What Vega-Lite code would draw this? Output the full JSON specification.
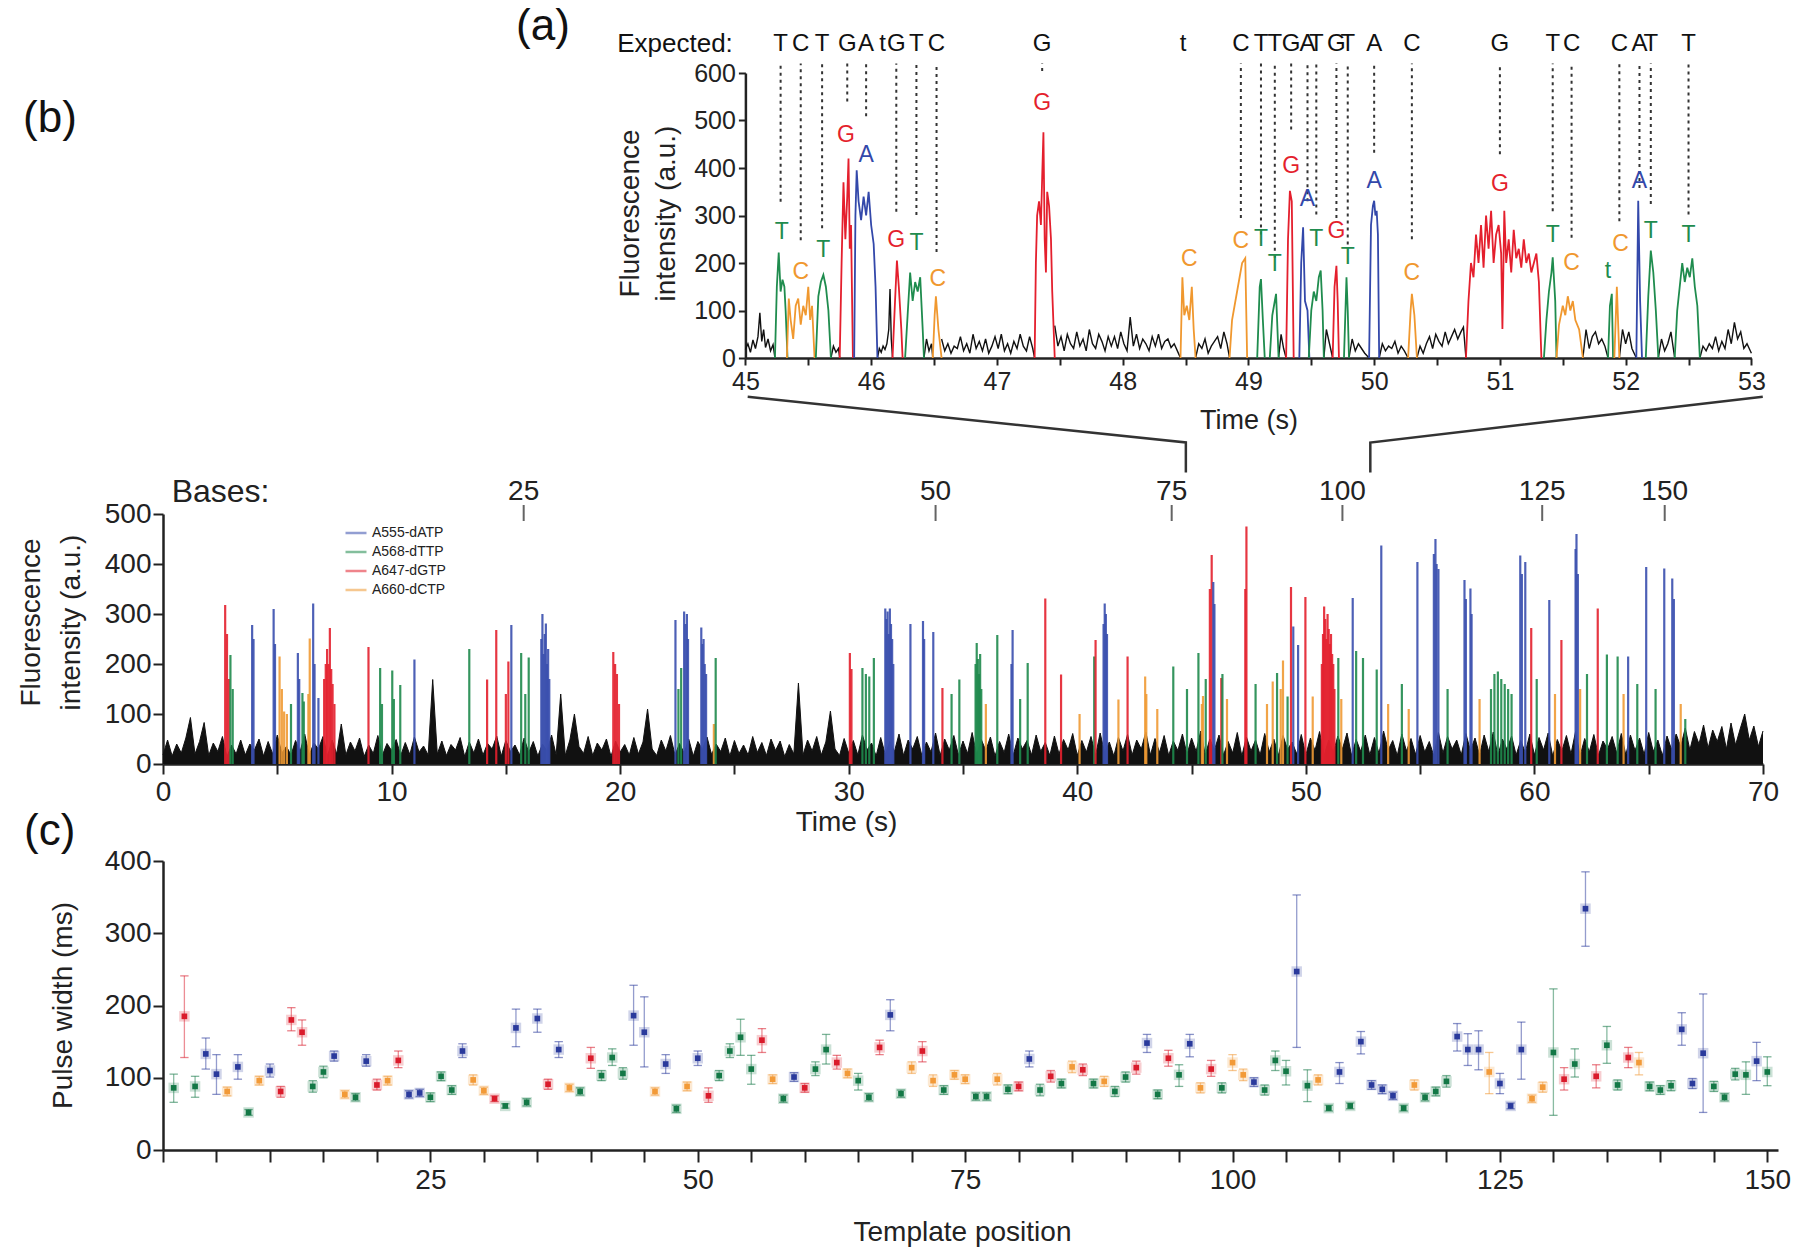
{
"$schema":"https://vega.github.io/schema/vega-lite/v6.json",
"background":"white",
"padding":{"left":17,"top":4,"right":10,"bottom":5},
"config":{"view":{"stroke":null},"font":"Liberation Sans",
"axis":{"grid":false,"domainColor":"#222","domainWidth":2.5,"tickColor":"#222","tickWidth":2,"labelColor":"#222","titleColor":"#222","titleFontWeight":"normal","labelFont":"Liberation Sans","titleFont":"Liberation Sans","labelOverlap":false,"labelFlush":false,"labelBound":false},
"text":{"font":"Liberation Sans"}},
"datasets":{
"noiseA":[
{"t":45.0,"v":18,"s":1},{"t":45.02,"v":30,"s":1},{"t":45.04,"v":12,"s":1},{"t":45.06,"v":38,"s":1},{"t":45.08,"v":20,"s":1},{"t":45.1,"v":45,"s":1},{"t":45.115,"v":95,"s":1},{"t":45.13,"v":35,"s":1},{"t":45.145,"v":60,"s":1},{"t":45.16,"v":22,"s":1},{"t":45.18,"v":40,"s":1},{"t":45.2,"v":15,"s":1},{"t":45.22,"v":28,"s":1},{"t":45.235,"v":0,"s":1},
{"t":45.68,"v":0,"s":2},{"t":45.7,"v":25,"s":2},{"t":45.72,"v":12,"s":2},{"t":45.74,"v":20,"s":2},{"t":45.75,"v":0,"s":2},
{"t":46.05,"v":0,"s":3},{"t":46.065,"v":20,"s":3},{"t":46.08,"v":12,"s":3},{"t":46.095,"v":25,"s":3},{"t":46.11,"v":18,"s":3},{"t":46.125,"v":30,"s":3},{"t":46.14,"v":60,"s":3},{"t":46.15,"v":145,"s":3},{"t":46.16,"v":40,"s":3},{"t":46.17,"v":0,"s":3},
{"t":46.42,"v":0,"s":4},{"t":46.44,"v":40,"s":4},{"t":46.46,"v":15,"s":4},{"t":46.48,"v":30,"s":4},{"t":46.49,"v":0,"s":4},
{"t":46.56,"v":40,"s":5},{"t":46.585,"v":15,"s":5},{"t":46.61,"v":30,"s":5},{"t":46.635,"v":10,"s":5},{"t":46.66,"v":25,"s":5},{"t":46.685,"v":20,"s":5},{"t":46.71,"v":45,"s":5},{"t":46.735,"v":15,"s":5},{"t":46.76,"v":30,"s":5},{"t":46.785,"v":10,"s":5},{"t":46.81,"v":50,"s":5},{"t":46.835,"v":20,"s":5},{"t":46.86,"v":35,"s":5},{"t":46.885,"v":15,"s":5},{"t":46.91,"v":40,"s":5},{"t":46.935,"v":10,"s":5},{"t":46.96,"v":25,"s":5},{"t":46.985,"v":45,"s":5},{"t":47.01,"v":20,"s":5},{"t":47.035,"v":50,"s":5},{"t":47.06,"v":15,"s":5},{"t":47.085,"v":30,"s":5},{"t":47.11,"v":10,"s":5},{"t":47.135,"v":35,"s":5},{"t":47.16,"v":20,"s":5},{"t":47.185,"v":50,"s":5},{"t":47.21,"v":25,"s":5},{"t":47.235,"v":15,"s":5},{"t":47.26,"v":45,"s":5},{"t":47.285,"v":20,"s":5},{"t":47.3,"v":0,"s":5},
{"t":47.46,"v":68,"s":6},{"t":47.485,"v":25,"s":6},{"t":47.51,"v":45,"s":6},{"t":47.535,"v":15,"s":6},{"t":47.56,"v":50,"s":6},{"t":47.585,"v":30,"s":6},{"t":47.61,"v":20,"s":6},{"t":47.635,"v":55,"s":6},{"t":47.66,"v":25,"s":6},{"t":47.685,"v":40,"s":6},{"t":47.71,"v":15,"s":6},{"t":47.735,"v":60,"s":6},{"t":47.76,"v":30,"s":6},{"t":47.785,"v":20,"s":6},{"t":47.81,"v":50,"s":6},{"t":47.835,"v":35,"s":6},{"t":47.86,"v":15,"s":6},{"t":47.885,"v":45,"s":6},{"t":47.91,"v":25,"s":6},{"t":47.935,"v":45,"s":6},{"t":47.96,"v":20,"s":6},{"t":47.985,"v":55,"s":6},{"t":48.01,"v":30,"s":6},{"t":48.035,"v":15,"s":6},{"t":48.06,"v":86,"s":6},{"t":48.085,"v":25,"s":6},{"t":48.11,"v":50,"s":6},{"t":48.135,"v":20,"s":6},{"t":48.16,"v":40,"s":6},{"t":48.185,"v":30,"s":6},{"t":48.21,"v":15,"s":6},{"t":48.235,"v":45,"s":6},{"t":48.26,"v":25,"s":6},{"t":48.285,"v":50,"s":6},{"t":48.31,"v":20,"s":6},{"t":48.335,"v":35,"s":6},{"t":48.36,"v":40,"s":6},{"t":48.385,"v":22,"s":6},{"t":48.41,"v":30,"s":6},{"t":48.435,"v":15,"s":6},{"t":48.46,"v":0,"s":6},
{"t":48.58,"v":0,"s":7},{"t":48.605,"v":30,"s":7},{"t":48.63,"v":20,"s":7},{"t":48.655,"v":40,"s":7},{"t":48.68,"v":10,"s":7},{"t":48.705,"v":25,"s":7},{"t":48.73,"v":35,"s":7},{"t":48.755,"v":45,"s":7},{"t":48.78,"v":20,"s":7},{"t":48.805,"v":55,"s":7},{"t":48.83,"v":30,"s":7},{"t":48.85,"v":0,"s":7},
{"t":49.24,"v":0,"s":8},{"t":49.26,"v":50,"s":8},{"t":49.28,"v":20,"s":8},{"t":49.3,"v":0,"s":8},
{"t":49.6,"v":0,"s":9},{"t":49.62,"v":60,"s":9},{"t":49.645,"v":30,"s":9},{"t":49.67,"v":0,"s":9},
{"t":49.8,"v":0,"s":10},{"t":49.825,"v":40,"s":10},{"t":49.85,"v":15,"s":10},{"t":49.875,"v":30,"s":10},{"t":49.9,"v":20,"s":10},{"t":49.925,"v":10,"s":10},{"t":49.96,"v":0,"s":10},
{"t":50.04,"v":0,"s":11},{"t":50.065,"v":30,"s":11},{"t":50.09,"v":15,"s":11},{"t":50.115,"v":25,"s":11},{"t":50.14,"v":20,"s":11},{"t":50.165,"v":35,"s":11},{"t":50.19,"v":10,"s":11},{"t":50.215,"v":25,"s":11},{"t":50.24,"v":15,"s":11},{"t":50.27,"v":0,"s":11},
{"t":50.34,"v":0,"s":12},{"t":50.365,"v":25,"s":12},{"t":50.39,"v":10,"s":12},{"t":50.415,"v":30,"s":12},{"t":50.44,"v":45,"s":12},{"t":50.465,"v":20,"s":12},{"t":50.49,"v":50,"s":12},{"t":50.515,"v":35,"s":12},{"t":50.54,"v":25,"s":12},{"t":50.565,"v":55,"s":12},{"t":50.59,"v":30,"s":12},{"t":50.615,"v":45,"s":12},{"t":50.64,"v":60,"s":12},{"t":50.665,"v":40,"s":12},{"t":50.69,"v":55,"s":12},{"t":50.71,"v":65,"s":12},{"t":50.73,"v":0,"s":12},
{"t":51.66,"v":0,"s":13},{"t":51.685,"v":60,"s":13},{"t":51.71,"v":20,"s":13},{"t":51.735,"v":45,"s":13},{"t":51.76,"v":55,"s":13},{"t":51.785,"v":30,"s":13},{"t":51.81,"v":40,"s":13},{"t":51.835,"v":25,"s":13},{"t":51.86,"v":0,"s":13},
{"t":51.95,"v":0,"s":14},{"t":51.975,"v":60,"s":14},{"t":52.0,"v":30,"s":14},{"t":52.025,"v":55,"s":14},{"t":52.05,"v":20,"s":14},{"t":52.085,"v":0,"s":14},
{"t":52.26,"v":0,"s":15},{"t":52.285,"v":40,"s":15},{"t":52.31,"v":15,"s":15},{"t":52.335,"v":30,"s":15},{"t":52.36,"v":55,"s":15},{"t":52.39,"v":0,"s":15},
{"t":52.59,"v":0,"s":16},{"t":52.615,"v":25,"s":16},{"t":52.64,"v":15,"s":16},{"t":52.665,"v":30,"s":16},{"t":52.69,"v":20,"s":16},{"t":52.715,"v":45,"s":16},{"t":52.74,"v":15,"s":16},{"t":52.765,"v":35,"s":16},{"t":52.79,"v":20,"s":16},{"t":52.815,"v":60,"s":16},{"t":52.84,"v":30,"s":16},{"t":52.865,"v":75,"s":16},{"t":52.89,"v":40,"s":16},{"t":52.915,"v":55,"s":16},{"t":52.94,"v":20,"s":16},{"t":52.965,"v":30,"s":16},{"t":53.0,"v":10,"s":16}
],
"pulsesA":[
{"t":45.235,"v":0,"b":"T","p":1},{"t":45.25,"v":150,"b":"T","p":1},{"t":45.265,"v":222,"b":"T","p":1},{"t":45.28,"v":140,"b":"T","p":1},{"t":45.295,"v":165,"b":"T","p":1},{"t":45.31,"v":150,"b":"T","p":1},{"t":45.32,"v":100,"b":"T","p":1},{"t":45.335,"v":0,"b":"T","p":1},
{"t":45.33,"v":0,"b":"C","p":2},{"t":45.345,"v":125,"b":"C","p":2},{"t":45.36,"v":80,"b":"C","p":2},{"t":45.38,"v":40,"b":"C","p":2},{"t":45.4,"v":110,"b":"C","p":2},{"t":45.42,"v":125,"b":"C","p":2},{"t":45.44,"v":70,"b":"C","p":2},{"t":45.46,"v":110,"b":"C","p":2},{"t":45.48,"v":90,"b":"C","p":2},{"t":45.5,"v":150,"b":"C","p":2},{"t":45.515,"v":80,"b":"C","p":2},{"t":45.53,"v":110,"b":"C","p":2},{"t":45.55,"v":0,"b":"C","p":2},
{"t":45.56,"v":0,"b":"T","p":3},{"t":45.58,"v":130,"b":"T","p":3},{"t":45.6,"v":160,"b":"T","p":3},{"t":45.62,"v":175,"b":"T","p":3},{"t":45.64,"v":150,"b":"T","p":3},{"t":45.66,"v":100,"b":"T","p":3},{"t":45.68,"v":0,"b":"T","p":3},
{"t":45.75,"v":0,"b":"G","p":4},{"t":45.765,"v":200,"b":"G","p":4},{"t":45.78,"v":370,"b":"G","p":4},{"t":45.795,"v":250,"b":"G","p":4},{"t":45.81,"v":340,"b":"G","p":4},{"t":45.82,"v":420,"b":"G","p":4},{"t":45.83,"v":230,"b":"G","p":4},{"t":45.84,"v":280,"b":"G","p":4},{"t":45.855,"v":0,"b":"G","p":4},
{"t":45.865,"v":0,"b":"A","p":5},{"t":45.875,"v":300,"b":"A","p":5},{"t":45.885,"v":395,"b":"A","p":5},{"t":45.9,"v":330,"b":"A","p":5},{"t":45.92,"v":290,"b":"A","p":5},{"t":45.94,"v":340,"b":"A","p":5},{"t":45.96,"v":300,"b":"A","p":5},{"t":45.98,"v":350,"b":"A","p":5},{"t":46.0,"v":280,"b":"A","p":5},{"t":46.02,"v":240,"b":"A","p":5},{"t":46.035,"v":150,"b":"A","p":5},{"t":46.05,"v":0,"b":"A","p":5},
{"t":46.17,"v":0,"b":"G","p":6},{"t":46.19,"v":120,"b":"G","p":6},{"t":46.205,"v":205,"b":"G","p":6},{"t":46.22,"v":150,"b":"G","p":6},{"t":46.24,"v":60,"b":"G","p":6},{"t":46.25,"v":0,"b":"G","p":6},
{"t":46.27,"v":0,"b":"T","p":7},{"t":46.29,"v":90,"b":"T","p":7},{"t":46.31,"v":180,"b":"T","p":7},{"t":46.33,"v":120,"b":"T","p":7},{"t":46.35,"v":160,"b":"T","p":7},{"t":46.37,"v":140,"b":"T","p":7},{"t":46.39,"v":170,"b":"T","p":7},{"t":46.41,"v":60,"b":"T","p":7},{"t":46.42,"v":0,"b":"T","p":7},
{"t":46.49,"v":0,"b":"C","p":8},{"t":46.505,"v":90,"b":"C","p":8},{"t":46.515,"v":130,"b":"C","p":8},{"t":46.535,"v":60,"b":"C","p":8},{"t":46.56,"v":0,"b":"C","p":8},
{"t":47.3,"v":0,"b":"G","p":9},{"t":47.31,"v":200,"b":"G","p":9},{"t":47.32,"v":300,"b":"G","p":9},{"t":47.335,"v":330,"b":"G","p":9},{"t":47.35,"v":280,"b":"G","p":9},{"t":47.36,"v":380,"b":"G","p":9},{"t":47.37,"v":475,"b":"G","p":9},{"t":47.38,"v":250,"b":"G","p":9},{"t":47.39,"v":180,"b":"G","p":9},{"t":47.4,"v":350,"b":"G","p":9},{"t":47.415,"v":320,"b":"G","p":9},{"t":47.43,"v":250,"b":"G","p":9},{"t":47.44,"v":140,"b":"G","p":9},{"t":47.46,"v":0,"b":"G","p":9},
{"t":48.46,"v":0,"b":"C","p":10},{"t":48.475,"v":170,"b":"C","p":10},{"t":48.49,"v":90,"b":"C","p":10},{"t":48.51,"v":110,"b":"C","p":10},{"t":48.53,"v":80,"b":"C","p":10},{"t":48.55,"v":150,"b":"C","p":10},{"t":48.565,"v":60,"b":"C","p":10},{"t":48.58,"v":0,"b":"C","p":10},
{"t":48.85,"v":0,"b":"C","p":11},{"t":48.87,"v":80,"b":"C","p":11},{"t":48.89,"v":110,"b":"C","p":11},{"t":48.91,"v":140,"b":"C","p":11},{"t":48.93,"v":170,"b":"C","p":11},{"t":48.95,"v":200,"b":"C","p":11},{"t":48.975,"v":210,"b":"C","p":11},{"t":48.99,"v":0,"b":"C","p":11},
{"t":49.07,"v":0,"b":"T","p":12},{"t":49.09,"v":150,"b":"T","p":12},{"t":49.1,"v":166,"b":"T","p":12},{"t":49.115,"v":80,"b":"T","p":12},{"t":49.13,"v":0,"b":"T","p":12},
{"t":49.17,"v":0,"b":"T","p":13},{"t":49.19,"v":90,"b":"T","p":13},{"t":49.21,"v":120,"b":"T","p":13},{"t":49.22,"v":135,"b":"T","p":13},{"t":49.24,"v":0,"b":"T","p":13},
{"t":49.3,"v":0,"b":"G","p":14},{"t":49.315,"v":250,"b":"G","p":14},{"t":49.33,"v":352,"b":"G","p":14},{"t":49.345,"v":330,"b":"G","p":14},{"t":49.36,"v":0,"b":"G","p":14},
{"t":49.405,"v":0,"b":"A","p":15},{"t":49.42,"v":200,"b":"A","p":15},{"t":49.435,"v":275,"b":"A","p":15},{"t":49.45,"v":120,"b":"A","p":15},{"t":49.47,"v":100,"b":"A","p":15},{"t":49.485,"v":0,"b":"A","p":15},
{"t":49.48,"v":0,"b":"T","p":16},{"t":49.5,"v":100,"b":"T","p":16},{"t":49.52,"v":140,"b":"T","p":16},{"t":49.54,"v":120,"b":"T","p":16},{"t":49.56,"v":170,"b":"T","p":16},{"t":49.575,"v":184,"b":"T","p":16},{"t":49.59,"v":100,"b":"T","p":16},{"t":49.6,"v":0,"b":"T","p":16},
{"t":49.67,"v":0,"b":"G","p":17},{"t":49.685,"v":150,"b":"G","p":17},{"t":49.7,"v":194,"b":"G","p":17},{"t":49.71,"v":120,"b":"G","p":17},{"t":49.72,"v":0,"b":"G","p":17},
{"t":49.76,"v":0,"b":"T","p":18},{"t":49.78,"v":170,"b":"T","p":18},{"t":49.79,"v":100,"b":"T","p":18},{"t":49.8,"v":0,"b":"T","p":18},
{"t":49.96,"v":0,"b":"A","p":19},{"t":49.975,"v":280,"b":"A","p":19},{"t":49.99,"v":320,"b":"A","p":19},{"t":50.0,"v":331,"b":"A","p":19},{"t":50.01,"v":300,"b":"A","p":19},{"t":50.02,"v":310,"b":"A","p":19},{"t":50.03,"v":260,"b":"A","p":19},{"t":50.04,"v":0,"b":"A","p":19},
{"t":50.27,"v":0,"b":"C","p":20},{"t":50.29,"v":100,"b":"C","p":20},{"t":50.3,"v":135,"b":"C","p":20},{"t":50.32,"v":90,"b":"C","p":20},{"t":50.34,"v":0,"b":"C","p":20},
{"t":50.73,"v":0,"b":"G","p":21},{"t":50.75,"v":120,"b":"G","p":21},{"t":50.77,"v":200,"b":"G","p":21},{"t":50.79,"v":170,"b":"G","p":21},{"t":50.81,"v":260,"b":"G","p":21},{"t":50.83,"v":200,"b":"G","p":21},{"t":50.85,"v":280,"b":"G","p":21},{"t":50.87,"v":190,"b":"G","p":21},{"t":50.89,"v":300,"b":"G","p":21},{"t":50.91,"v":230,"b":"G","p":21},{"t":50.93,"v":310,"b":"G","p":21},{"t":50.95,"v":200,"b":"G","p":21},{"t":50.97,"v":260,"b":"G","p":21},{"t":50.99,"v":280,"b":"G","p":21},{"t":51.01,"v":220,"b":"G","p":21},{"t":51.02,"v":61,"b":"G","p":21},{"t":51.035,"v":310,"b":"G","p":21},{"t":51.05,"v":200,"b":"G","p":21},{"t":51.07,"v":250,"b":"G","p":21},{"t":51.09,"v":180,"b":"G","p":21},{"t":51.11,"v":270,"b":"G","p":21},{"t":51.13,"v":210,"b":"G","p":21},{"t":51.15,"v":230,"b":"G","p":21},{"t":51.17,"v":190,"b":"G","p":21},{"t":51.19,"v":250,"b":"G","p":21},{"t":51.21,"v":200,"b":"G","p":21},{"t":51.23,"v":220,"b":"G","p":21},{"t":51.25,"v":180,"b":"G","p":21},{"t":51.27,"v":200,"b":"G","p":21},{"t":51.29,"v":220,"b":"G","p":21},{"t":51.31,"v":160,"b":"G","p":21},{"t":51.33,"v":0,"b":"G","p":21},
{"t":51.35,"v":0,"b":"T","p":22},{"t":51.37,"v":80,"b":"T","p":22},{"t":51.39,"v":140,"b":"T","p":22},{"t":51.41,"v":180,"b":"T","p":22},{"t":51.42,"v":212,"b":"T","p":22},{"t":51.44,"v":120,"b":"T","p":22},{"t":51.45,"v":0,"b":"T","p":22},
{"t":51.45,"v":0,"b":"C","p":23},{"t":51.47,"v":70,"b":"C","p":23},{"t":51.5,"v":110,"b":"C","p":23},{"t":51.52,"v":90,"b":"C","p":23},{"t":51.54,"v":130,"b":"C","p":23},{"t":51.56,"v":100,"b":"C","p":23},{"t":51.58,"v":120,"b":"C","p":23},{"t":51.6,"v":80,"b":"C","p":23},{"t":51.63,"v":60,"b":"C","p":23},{"t":51.66,"v":0,"b":"C","p":23},
{"t":51.86,"v":0,"b":"T","p":24},{"t":51.875,"v":110,"b":"T","p":24},{"t":51.89,"v":135,"b":"T","p":24},{"t":51.9,"v":0,"b":"T","p":24},
{"t":51.91,"v":0,"b":"C","p":25},{"t":51.93,"v":150,"b":"C","p":25},{"t":51.95,"v":0,"b":"C","p":25},
{"t":52.085,"v":0,"b":"A","p":26},{"t":52.1,"v":331,"b":"A","p":26},{"t":52.115,"v":120,"b":"A","p":26},{"t":52.13,"v":0,"b":"A","p":26},
{"t":52.16,"v":0,"b":"T","p":27},{"t":52.18,"v":130,"b":"T","p":27},{"t":52.2,"v":226,"b":"T","p":27},{"t":52.22,"v":180,"b":"T","p":27},{"t":52.24,"v":100,"b":"T","p":27},{"t":52.26,"v":0,"b":"T","p":27},
{"t":52.39,"v":0,"b":"T","p":28},{"t":52.41,"v":100,"b":"T","p":28},{"t":52.43,"v":150,"b":"T","p":28},{"t":52.45,"v":200,"b":"T","p":28},{"t":52.47,"v":160,"b":"T","p":28},{"t":52.49,"v":190,"b":"T","p":28},{"t":52.51,"v":170,"b":"T","p":28},{"t":52.53,"v":210,"b":"T","p":28},{"t":52.55,"v":150,"b":"T","p":28},{"t":52.57,"v":110,"b":"T","p":28},{"t":52.59,"v":0,"b":"T","p":28}
],
"expA":[
{"t":45.28,"txt":"T","lo":329},{"t":45.44,"txt":"C","lo":248},{"t":45.61,"txt":"T","lo":273},{"t":45.81,"txt":"G","lo":540},{"t":45.96,"txt":"A","lo":509},{"t":46.09,"txt":"t","lo":null},{"t":46.2,"txt":"G","lo":308},{"t":46.36,"txt":"T","lo":301},{"t":46.52,"txt":"C","lo":223},{"t":47.36,"txt":"G","lo":604},{"t":48.48,"txt":"t","lo":null},{"t":48.94,"txt":"C","lo":295},{"t":49.1,"txt":"T","lo":260},{"t":49.21,"txt":"T","lo":211},{"t":49.34,"txt":"G","lo":481},{"t":49.47,"txt":"A","lo":330},{"t":49.54,"txt":"T","lo":302},{"t":49.7,"txt":"G","lo":295},{"t":49.79,"txt":"T","lo":239},{"t":50.0,"txt":"A","lo":432},{"t":50.3,"txt":"C","lo":250},{"t":51.0,"txt":"G","lo":429},{"t":51.42,"txt":"T","lo":309},{"t":51.57,"txt":"C","lo":253},{"t":51.95,"txt":"C","lo":288},{"t":52.11,"txt":"A","lo":358},{"t":52.2,"txt":"T","lo":324},{"t":52.5,"txt":"T","lo":302}
],
"peakA":[
{"t":45.29,"v":265,"txt":"T","b":"T"},{"t":45.44,"v":181,"txt":"C","b":"C"},{"t":45.62,"v":227,"txt":"T","b":"T"},{"t":45.8,"v":470,"txt":"G","b":"G"},{"t":45.96,"v":428,"txt":"A","b":"A"},{"t":46.2,"v":248,"txt":"G","b":"G"},{"t":46.36,"v":242,"txt":"T","b":"T"},{"t":46.53,"v":167,"txt":"C","b":"C"},{"t":47.36,"v":537,"txt":"G","b":"G"},{"t":48.53,"v":209,"txt":"C","b":"C"},{"t":48.94,"v":246,"txt":"C","b":"C"},{"t":49.1,"v":250,"txt":"T","b":"T"},{"t":49.21,"v":197,"txt":"T","b":"T"},{"t":49.34,"v":404,"txt":"G","b":"G"},{"t":49.47,"v":334,"txt":"A","b":"A"},{"t":49.54,"v":250,"txt":"T","b":"T"},{"t":49.7,"v":267,"txt":"G","b":"G"},{"t":49.79,"v":212,"txt":"T","b":"T"},{"t":50.0,"v":372,"txt":"A","b":"A"},{"t":50.3,"v":180,"txt":"C","b":"C"},{"t":51.0,"v":366,"txt":"G","b":"G"},{"t":51.42,"v":260,"txt":"T","b":"T"},{"t":51.57,"v":200,"txt":"C","b":"C"},{"t":51.86,"v":183,"txt":"t","b":"T"},{"t":51.96,"v":240,"txt":"C","b":"C"},{"t":52.11,"v":372,"txt":"A","b":"A"},{"t":52.2,"v":267,"txt":"T","b":"T"},{"t":52.5,"v":260,"txt":"T","b":"T"}
],
"labA":[{"t":44.9,"v":662,"txt":"Expected:","k":"exp"},{"t":43.39,"v":697,"txt":"(a)","k":"big"},{"t":39.47,"v":503,"txt":"(b)","k":"big"}],
"noiseB":[
{"t":0,"v":18},{"t":0.2,"v":48},{"t":0.4,"v":16},{"t":0.6,"v":40},{"t":0.8,"v":22},{"t":1,"v":52},{"t":1.2,"v":93},{"t":1.4,"v":20},{"t":1.6,"v":45},{"t":1.8,"v":83},
{"t":2,"v":17},{"t":2.2,"v":42},{"t":2.4,"v":25},{"t":2.6,"v":55},{"t":2.8,"v":15},{"t":3,"v":38},{"t":3.2,"v":20},{"t":3.4,"v":48},{"t":3.6,"v":18},{"t":3.8,"v":40},
{"t":4,"v":28},{"t":4.2,"v":50},{"t":4.4,"v":16},{"t":4.6,"v":45},{"t":4.8,"v":20},{"t":5,"v":58},{"t":5.2,"v":22},{"t":5.4,"v":35},{"t":5.6,"v":18},{"t":5.8,"v":47},
{"t":6,"v":25},{"t":6.2,"v":60},{"t":6.4,"v":18},{"t":6.6,"v":42},{"t":6.8,"v":30},{"t":7,"v":55},{"t":7.2,"v":16},{"t":7.4,"v":48},{"t":7.6,"v":20},{"t":7.8,"v":80},
{"t":8,"v":18},{"t":8.2,"v":44},{"t":8.4,"v":26},{"t":8.6,"v":52},{"t":8.8,"v":15},{"t":9,"v":38},{"t":9.2,"v":21},{"t":9.4,"v":57},{"t":9.6,"v":18},{"t":9.8,"v":41},
{"t":10,"v":27},{"t":10.2,"v":49},{"t":10.4,"v":17},{"t":10.6,"v":43},{"t":10.8,"v":19},{"t":11,"v":54},{"t":11.2,"v":24},{"t":11.4,"v":36},{"t":11.6,"v":18},{"t":11.8,"v":169},
{"t":12,"v":20},{"t":12.2,"v":46},{"t":12.4,"v":17},{"t":12.6,"v":39},{"t":12.8,"v":28},{"t":13,"v":53},{"t":13.2,"v":15},{"t":13.4,"v":44},{"t":13.6,"v":22},{"t":13.8,"v":50},
{"t":14,"v":18},{"t":14.2,"v":41},{"t":14.4,"v":30},{"t":14.6,"v":56},{"t":14.8,"v":16},{"t":15,"v":47},{"t":15.2,"v":25},{"t":15.4,"v":38},{"t":15.6,"v":18},{"t":15.8,"v":52},
{"t":16,"v":23},{"t":16.2,"v":45},{"t":16.4,"v":16},{"t":16.6,"v":40},{"t":16.8,"v":26},{"t":17,"v":58},{"t":17.2,"v":18},{"t":17.4,"v":140},{"t":17.6,"v":17},{"t":17.8,"v":48},
{"t":18,"v":100},{"t":18.2,"v":35},{"t":18.4,"v":21},{"t":18.6,"v":55},{"t":18.8,"v":17},{"t":19,"v":42},{"t":19.2,"v":28},{"t":19.4,"v":50},{"t":19.6,"v":15},{"t":19.8,"v":46},
{"t":20,"v":24},{"t":20.2,"v":39},{"t":20.4,"v":18},{"t":20.6,"v":53},{"t":20.8,"v":20},{"t":21,"v":44},{"t":21.2,"v":110},{"t":21.4,"v":30},{"t":21.6,"v":17},{"t":21.8,"v":48},
{"t":22,"v":26},{"t":22.2,"v":57},{"t":22.4,"v":18},{"t":22.6,"v":41},{"t":22.8,"v":22},{"t":23,"v":50},{"t":23.2,"v":16},{"t":23.4,"v":45},{"t":23.6,"v":29},{"t":23.8,"v":54},
{"t":24,"v":19},{"t":24.2,"v":40},{"t":24.4,"v":25},{"t":24.6,"v":52},{"t":24.8,"v":16},{"t":25,"v":47},{"t":25.2,"v":21},{"t":25.4,"v":38},{"t":25.6,"v":18},{"t":25.8,"v":55},
{"t":26,"v":23},{"t":26.2,"v":43},{"t":26.4,"v":17},{"t":26.6,"v":50},{"t":26.8,"v":27},{"t":27,"v":46},{"t":27.2,"v":15},{"t":27.4,"v":39},{"t":27.6,"v":20},{"t":27.8,"v":162},
{"t":28,"v":18},{"t":28.2,"v":48},{"t":28.4,"v":26},{"t":28.6,"v":55},{"t":28.8,"v":18},{"t":29,"v":44},{"t":29.2,"v":106},{"t":29.4,"v":30},{"t":29.6,"v":17},{"t":29.8,"v":51},
{"t":30,"v":22},{"t":30.2,"v":47},{"t":30.4,"v":18},{"t":30.6,"v":58},{"t":30.8,"v":28},{"t":31,"v":42},{"t":31.2,"v":16},{"t":31.4,"v":53},{"t":31.6,"v":19},{"t":31.8,"v":45},
{"t":32,"v":25},{"t":32.2,"v":60},{"t":32.4,"v":17},{"t":32.6,"v":48},{"t":32.8,"v":30},{"t":33,"v":55},{"t":33.2,"v":17},{"t":33.4,"v":44},{"t":33.6,"v":24},{"t":33.8,"v":62},
{"t":34,"v":17},{"t":34.2,"v":50},{"t":34.4,"v":28},{"t":34.6,"v":57},{"t":34.8,"v":18},{"t":35,"v":46},{"t":35.2,"v":21},{"t":35.4,"v":63},{"t":35.6,"v":18},{"t":35.8,"v":49},
{"t":36,"v":27},{"t":36.2,"v":54},{"t":36.4,"v":16},{"t":36.6,"v":45},{"t":36.8,"v":23},{"t":37,"v":60},{"t":37.2,"v":18},{"t":37.4,"v":52},{"t":37.6,"v":30},{"t":37.8,"v":47},
{"t":38,"v":18},{"t":38.2,"v":58},{"t":38.4,"v":25},{"t":38.6,"v":43},{"t":38.8,"v":17},{"t":39,"v":56},{"t":39.2,"v":20},{"t":39.4,"v":49},{"t":39.6,"v":28},{"t":39.8,"v":61},
{"t":40,"v":17},{"t":40.2,"v":47},{"t":40.4,"v":24},{"t":40.6,"v":55},{"t":40.8,"v":17},{"t":41,"v":62},{"t":41.2,"v":22},{"t":41.4,"v":44},{"t":41.6,"v":16},{"t":41.8,"v":53},
{"t":42,"v":26},{"t":42.2,"v":59},{"t":42.4,"v":18},{"t":42.6,"v":48},{"t":42.8,"v":30},{"t":43,"v":64},{"t":43.2,"v":18},{"t":43.4,"v":51},{"t":43.6,"v":23},{"t":43.8,"v":57},
{"t":44,"v":17},{"t":44.2,"v":46},{"t":44.4,"v":27},{"t":44.6,"v":60},{"t":44.8,"v":19},{"t":45,"v":52},{"t":45.2,"v":25},{"t":45.4,"v":66},{"t":45.6,"v":18},{"t":45.8,"v":50},
{"t":46,"v":28},{"t":46.2,"v":58},{"t":46.4,"v":18},{"t":46.6,"v":45},{"t":46.8,"v":22},{"t":47,"v":63},{"t":47.2,"v":16},{"t":47.4,"v":54},{"t":47.6,"v":26},{"t":47.8,"v":48},
{"t":48,"v":18},{"t":48.2,"v":61},{"t":48.4,"v":24},{"t":48.6,"v":50},{"t":48.8,"v":17},{"t":49,"v":57},{"t":49.2,"v":29},{"t":49.4,"v":44},{"t":49.6,"v":20},{"t":49.8,"v":59},
{"t":50,"v":18},{"t":50.2,"v":52},{"t":50.4,"v":27},{"t":50.6,"v":65},{"t":50.8,"v":17},{"t":51,"v":48},{"t":51.2,"v":23},{"t":51.4,"v":56},{"t":51.6,"v":30},{"t":51.8,"v":62},
{"t":52,"v":17},{"t":52.2,"v":49},{"t":52.4,"v":25},{"t":52.6,"v":58},{"t":52.8,"v":18},{"t":53,"v":53},{"t":53.2,"v":21},{"t":53.4,"v":66},{"t":53.6,"v":28},{"t":53.8,"v":47},
{"t":54,"v":17},{"t":54.2,"v":60},{"t":54.4,"v":26},{"t":54.6,"v":51},{"t":54.8,"v":19},{"t":55,"v":57},{"t":55.2,"v":24},{"t":55.4,"v":45},{"t":55.6,"v":16},{"t":55.8,"v":63},
{"t":56,"v":22},{"t":56.2,"v":55},{"t":56.4,"v":30},{"t":56.6,"v":48},{"t":56.8,"v":18},{"t":57,"v":61},{"t":57.2,"v":27},{"t":57.4,"v":52},{"t":57.6,"v":18},{"t":57.8,"v":58},
{"t":58,"v":25},{"t":58.2,"v":64},{"t":58.4,"v":17},{"t":58.6,"v":50},{"t":58.8,"v":29},{"t":59,"v":56},{"t":59.2,"v":18},{"t":59.4,"v":47},{"t":59.6,"v":23},{"t":59.8,"v":60},
{"t":60,"v":18},{"t":60.2,"v":53},{"t":60.4,"v":28},{"t":60.6,"v":62},{"t":60.8,"v":16},{"t":61,"v":49},{"t":61.2,"v":26},{"t":61.4,"v":57},{"t":61.6,"v":20},{"t":61.8,"v":65},
{"t":62,"v":17},{"t":62.2,"v":51},{"t":62.4,"v":24},{"t":62.6,"v":59},{"t":62.8,"v":17},{"t":63,"v":46},{"t":63.2,"v":30},{"t":63.4,"v":55},{"t":63.6,"v":22},{"t":63.8,"v":61},
{"t":64,"v":18},{"t":64.2,"v":58},{"t":64.4,"v":27},{"t":64.6,"v":52},{"t":64.8,"v":19},{"t":65,"v":63},{"t":65.2,"v":25},{"t":65.4,"v":48},{"t":65.6,"v":17},{"t":65.8,"v":56},
{"t":66,"v":29},{"t":66.2,"v":60},{"t":66.4,"v":35},{"t":66.6,"v":72},{"t":66.8,"v":28},{"t":67,"v":65},{"t":67.2,"v":40},{"t":67.4,"v":78},{"t":67.6,"v":32},{"t":67.8,"v":68},
{"t":68,"v":45},{"t":68.2,"v":75},{"t":68.4,"v":30},{"t":68.6,"v":82},{"t":68.8,"v":38},{"t":69,"v":70},{"t":69.2,"v":100},{"t":69.4,"v":48},{"t":69.6,"v":76},{"t":69.8,"v":35},{"t":70,"v":66}
],
"pulsesB":[
{"t":2.72,"v":318,"b":"G"},{"t":2.8,"v":260,"b":"G"},{"t":2.88,"v":170,"b":"G"},{"t":2.95,"v":218,"b":"T"},{"t":3.05,"v":150,"b":"T"},
{"t":3.9,"v":278,"b":"A"},{"t":3.96,"v":250,"b":"A"},{"t":4.84,"v":310,"b":"A"},{"t":4.9,"v":240,"b":"A"},
{"t":5.1,"v":215,"b":"C"},{"t":5.2,"v":150,"b":"C"},{"t":5.3,"v":105,"b":"C"},{"t":5.42,"v":100,"b":"C"},{"t":5.6,"v":120,"b":"T"},
{"t":5.9,"v":222,"b":"A"},{"t":5.96,"v":170,"b":"A"},{"t":6.1,"v":142,"b":"T"},{"t":6.16,"v":125,"b":"T"},{"t":6.36,"v":140,"b":"C"},{"t":6.42,"v":251,"b":"C"},
{"t":6.57,"v":321,"b":"A"},{"t":6.63,"v":200,"b":"A"},{"t":6.8,"v":132,"b":"A"},
{"t":7.05,"v":170,"b":"G"},{"t":7.12,"v":200,"b":"G"},{"t":7.18,"v":230,"b":"G"},{"t":7.24,"v":200,"b":"G"},{"t":7.3,"v":272,"b":"G"},{"t":7.36,"v":190,"b":"G"},{"t":7.42,"v":160,"b":"G"},{"t":7.5,"v":120,"b":"G"},
{"t":8.99,"v":234,"b":"G"},{"t":9.5,"v":192,"b":"T"},{"t":9.58,"v":120,"b":"T"},{"t":10.03,"v":187,"b":"T"},{"t":10.1,"v":130,"b":"T"},{"t":10.38,"v":158,"b":"T"},{"t":11.0,"v":209,"b":"A"},
{"t":13.4,"v":230,"b":"T"},{"t":14.18,"v":169,"b":"G"},{"t":14.58,"v":268,"b":"G"},{"t":15.0,"v":140,"b":"G"},{"t":15.11,"v":205,"b":"G"},{"t":15.24,"v":278,"b":"A"},{"t":15.67,"v":222,"b":"T"},{"t":15.85,"v":140,"b":"T"},{"t":16.0,"v":213,"b":"T"},
{"t":16.55,"v":250,"b":"A"},{"t":16.6,"v":300,"b":"A"},{"t":16.65,"v":220,"b":"A"},{"t":16.7,"v":260,"b":"A"},{"t":16.75,"v":281,"b":"A"},{"t":16.8,"v":200,"b":"A"},{"t":16.85,"v":230,"b":"A"},{"t":16.9,"v":170,"b":"A"},
{"t":19.7,"v":224,"b":"G"},{"t":19.78,"v":200,"b":"G"},{"t":19.86,"v":180,"b":"G"},{"t":19.95,"v":120,"b":"G"},
{"t":22.42,"v":288,"b":"A"},{"t":22.55,"v":150,"b":"T"},{"t":22.67,"v":192,"b":"T"},{"t":22.8,"v":305,"b":"A"},{"t":22.86,"v":280,"b":"A"},{"t":22.92,"v":300,"b":"A"},{"t":22.97,"v":250,"b":"A"},
{"t":23.55,"v":273,"b":"A"},{"t":23.6,"v":240,"b":"A"},{"t":23.65,"v":250,"b":"A"},{"t":23.7,"v":200,"b":"A"},{"t":23.76,"v":180,"b":"A"},{"t":24.1,"v":80,"b":"C"},{"t":24.18,"v":212,"b":"T"},
{"t":30.05,"v":222,"b":"G"},{"t":30.12,"v":190,"b":"G"},{"t":30.6,"v":192,"b":"T"},{"t":30.75,"v":180,"b":"T"},{"t":30.9,"v":175,"b":"T"},{"t":31.1,"v":212,"b":"T"},
{"t":31.6,"v":311,"b":"A"},{"t":31.65,"v":290,"b":"A"},{"t":31.7,"v":305,"b":"A"},{"t":31.75,"v":260,"b":"A"},{"t":31.8,"v":311,"b":"A"},{"t":31.85,"v":280,"b":"A"},{"t":31.9,"v":250,"b":"A"},{"t":31.95,"v":200,"b":"A"},
{"t":32.7,"v":280,"b":"A"},{"t":33.25,"v":286,"b":"A"},{"t":33.3,"v":250,"b":"A"},{"t":33.7,"v":264,"b":"A"},{"t":34.1,"v":152,"b":"G"},{"t":34.5,"v":140,"b":"T"},{"t":34.84,"v":169,"b":"T"},
{"t":35.55,"v":200,"b":"T"},{"t":35.6,"v":242,"b":"T"},{"t":35.65,"v":210,"b":"T"},{"t":35.7,"v":180,"b":"T"},{"t":35.75,"v":220,"b":"T"},{"t":35.8,"v":150,"b":"T"},
{"t":36.0,"v":120,"b":"C"},{"t":36.5,"v":258,"b":"T"},{"t":37.12,"v":200,"b":"A"},{"t":37.17,"v":268,"b":"A"},{"t":37.5,"v":130,"b":"T"},{"t":37.83,"v":202,"b":"T"},{"t":38.6,"v":331,"b":"G"},{"t":39.29,"v":179,"b":"G"},{"t":40.1,"v":100,"b":"C"},
{"t":40.74,"v":215,"b":"T"},{"t":40.8,"v":248,"b":"G"},{"t":41.15,"v":280,"b":"A"},{"t":41.2,"v":321,"b":"A"},{"t":41.25,"v":300,"b":"A"},{"t":41.3,"v":260,"b":"A"},
{"t":41.8,"v":129,"b":"C"},{"t":42.2,"v":215,"b":"G"},{"t":42.97,"v":175,"b":"C"},{"t":43.02,"v":140,"b":"C"},{"t":43.5,"v":110,"b":"C"},{"t":44.2,"v":195,"b":"T"},{"t":44.8,"v":150,"b":"T"},
{"t":45.3,"v":222,"b":"T"},{"t":45.45,"v":120,"b":"C"},{"t":45.5,"v":136,"b":"C"},{"t":45.62,"v":170,"b":"T"},{"t":45.8,"v":350,"b":"G"},{"t":45.88,"v":418,"b":"G"},{"t":45.95,"v":364,"b":"A"},{"t":46.0,"v":320,"b":"A"},
{"t":46.3,"v":172,"b":"G"},{"t":46.35,"v":180,"b":"T"},{"t":46.55,"v":130,"b":"C"},{"t":47.35,"v":350,"b":"G"},{"t":47.4,"v":475,"b":"G"},{"t":47.8,"v":160,"b":"T"},{"t":48.3,"v":120,"b":"C"},{"t":48.55,"v":165,"b":"C"},{"t":48.74,"v":182,"b":"T"},
{"t":48.9,"v":150,"b":"C"},{"t":49.0,"v":207,"b":"C"},{"t":49.2,"v":135,"b":"T"},{"t":49.35,"v":354,"b":"G"},{"t":49.45,"v":275,"b":"A"},{"t":49.66,"v":238,"b":"A"},{"t":49.98,"v":334,"b":"G"},{"t":50.3,"v":135,"b":"C"},
{"t":50.7,"v":200,"b":"G"},{"t":50.75,"v":260,"b":"G"},{"t":50.8,"v":315,"b":"G"},{"t":50.85,"v":290,"b":"G"},{"t":50.9,"v":250,"b":"G"},{"t":50.95,"v":300,"b":"G"},{"t":51.0,"v":270,"b":"G"},{"t":51.05,"v":240,"b":"G"},{"t":51.1,"v":260,"b":"G"},{"t":51.15,"v":220,"b":"G"},{"t":51.2,"v":200,"b":"G"},{"t":51.25,"v":150,"b":"G"},
{"t":51.42,"v":212,"b":"T"},{"t":51.55,"v":130,"b":"C"},{"t":52.05,"v":332,"b":"A"},{"t":52.2,"v":226,"b":"T"},{"t":52.5,"v":212,"b":"T"},{"t":53.1,"v":189,"b":"T"},{"t":53.3,"v":437,"b":"A"},{"t":53.6,"v":120,"b":"C"},
{"t":54.2,"v":160,"b":"T"},{"t":54.5,"v":110,"b":"C"},{"t":54.88,"v":404,"b":"A"},{"t":55.6,"v":420,"b":"A"},{"t":55.67,"v":450,"b":"A"},{"t":55.72,"v":400,"b":"A"},{"t":55.8,"v":390,"b":"A"},{"t":56.2,"v":150,"b":"T"},
{"t":56.94,"v":368,"b":"A"},{"t":57.0,"v":330,"b":"A"},{"t":57.2,"v":351,"b":"A"},{"t":57.25,"v":300,"b":"A"},{"t":57.6,"v":130,"b":"C"},
{"t":58.1,"v":150,"b":"T"},{"t":58.25,"v":180,"b":"T"},{"t":58.4,"v":185,"b":"T"},{"t":58.55,"v":170,"b":"T"},{"t":58.7,"v":160,"b":"T"},{"t":58.85,"v":150,"b":"T"},{"t":59.0,"v":140,"b":"T"},
{"t":59.38,"v":417,"b":"A"},{"t":59.45,"v":380,"b":"A"},{"t":59.6,"v":404,"b":"A"},{"t":59.86,"v":272,"b":"G"},{"t":60.1,"v":170,"b":"T"},{"t":60.65,"v":328,"b":"A"},{"t":60.9,"v":140,"b":"C"},{"t":61.18,"v":248,"b":"G"},
{"t":61.8,"v":430,"b":"A"},{"t":61.84,"v":460,"b":"A"},{"t":61.9,"v":380,"b":"A"},{"t":62.0,"v":150,"b":"C"},{"t":62.3,"v":180,"b":"T"},{"t":62.77,"v":311,"b":"G"},{"t":63.17,"v":219,"b":"T"},{"t":63.64,"v":215,"b":"T"},{"t":63.9,"v":140,"b":"C"},
{"t":64.1,"v":215,"b":"A"},{"t":64.5,"v":160,"b":"T"},{"t":64.89,"v":394,"b":"A"},{"t":65.3,"v":150,"b":"T"},{"t":65.68,"v":391,"b":"A"},{"t":66.03,"v":371,"b":"A"},{"t":66.1,"v":330,"b":"A"},{"t":66.4,"v":120,"b":"C"},{"t":66.6,"v":90,"b":"T"}
],
"bases":[{"t":15.78,"n":"25"},{"t":33.8,"n":"50"},{"t":44.13,"n":"75"},{"t":51.6,"n":"100"},{"t":60.34,"n":"125"},{"t":65.7,"n":"150"}],
"basesLab":[{"t":0.38,"txt":"Bases:"}],
"conn":[{"t":25.58,"v":734.6,"g":"L","o":1},{"t":44.75,"v":643,"g":"L","o":2},{"t":44.75,"v":583,"g":"L","o":3},{"t":69.99,"v":734.6,"g":"R","o":1},{"t":52.82,"v":643,"g":"R","o":2},{"t":52.82,"v":583,"g":"R","o":3}],
"pw":[
{"pos":1,"b":"T","pw":86,"lo":66,"hi":105},{"pos":2,"b":"G","pw":185,"lo":128,"hi":241},{"pos":3,"b":"T","pw":88,"lo":73,"hi":102},{"pos":4,"b":"A","pw":133,"lo":112,"hi":155},{"pos":5,"b":"A","pw":105,"lo":77,"hi":132},{"pos":6,"b":"C","pw":81,"lo":75,"hi":87},{"pos":7,"b":"A","pw":115,"lo":98,"hi":132},{"pos":8,"b":"T","pw":52,"lo":48,"hi":56},{"pos":9,"b":"C","pw":96,"lo":90,"hi":102},{"pos":10,"b":"A","pw":110,"lo":101,"hi":119},
{"pos":11,"b":"G","pw":81,"lo":73,"hi":88},{"pos":12,"b":"G","pw":180,"lo":165,"hi":197},{"pos":13,"b":"G","pw":163,"lo":145,"hi":180},{"pos":14,"b":"T","pw":88,"lo":80,"hi":96},{"pos":15,"b":"T","pw":108,"lo":100,"hi":116},{"pos":16,"b":"A","pw":130,"lo":123,"hi":137},{"pos":17,"b":"C","pw":77,"lo":72,"hi":82},{"pos":18,"b":"T","pw":73,"lo":68,"hi":78},{"pos":19,"b":"A","pw":123,"lo":116,"hi":132},{"pos":20,"b":"G","pw":90,"lo":83,"hi":98},
{"pos":21,"b":"C","pw":96,"lo":90,"hi":102},{"pos":22,"b":"G","pw":124,"lo":114,"hi":137},{"pos":23,"b":"A","pw":77,"lo":72,"hi":82},{"pos":24,"b":"A","pw":79,"lo":74,"hi":84},{"pos":25,"b":"T","pw":73,"lo":67,"hi":79},{"pos":26,"b":"T","pw":102,"lo":96,"hi":108},{"pos":27,"b":"T","pw":83,"lo":77,"hi":89},{"pos":28,"b":"A","pw":137,"lo":128,"hi":147},{"pos":29,"b":"C","pw":97,"lo":90,"hi":104},{"pos":30,"b":"C","pw":82,"lo":77,"hi":87},
{"pos":31,"b":"G","pw":71,"lo":67,"hi":75},{"pos":32,"b":"T","pw":61,"lo":58,"hi":64},{"pos":33,"b":"A","pw":169,"lo":143,"hi":195},{"pos":34,"b":"T","pw":66,"lo":61,"hi":71},{"pos":35,"b":"A","pw":182,"lo":163,"hi":195},{"pos":36,"b":"G","pw":91,"lo":84,"hi":98},{"pos":37,"b":"A","pw":139,"lo":128,"hi":150},{"pos":38,"b":"C","pw":86,"lo":81,"hi":91},{"pos":39,"b":"T","pw":81,"lo":76,"hi":86},{"pos":40,"b":"G","pw":127,"lo":113,"hi":142},
{"pos":41,"b":"T","pw":103,"lo":96,"hi":110},{"pos":42,"b":"T","pw":128,"lo":117,"hi":140},{"pos":43,"b":"T","pw":106,"lo":98,"hi":114},{"pos":44,"b":"A","pw":186,"lo":145,"hi":228},{"pos":45,"b":"A","pw":163,"lo":115,"hi":212},{"pos":46,"b":"C","pw":81,"lo":76,"hi":86},{"pos":47,"b":"A","pw":119,"lo":106,"hi":132},{"pos":48,"b":"T","pw":57,"lo":52,"hi":62},{"pos":49,"b":"C","pw":88,"lo":82,"hi":94},{"pos":50,"b":"A","pw":127,"lo":117,"hi":137},
{"pos":51,"b":"G","pw":75,"lo":66,"hi":86},{"pos":52,"b":"T","pw":103,"lo":96,"hi":110},{"pos":53,"b":"T","pw":137,"lo":128,"hi":147},{"pos":54,"b":"T","pw":156,"lo":131,"hi":181},{"pos":55,"b":"T","pw":112,"lo":91,"hi":131},{"pos":56,"b":"G","pw":152,"lo":135,"hi":168},{"pos":57,"b":"C","pw":98,"lo":92,"hi":104},{"pos":58,"b":"T","pw":71,"lo":66,"hi":76},{"pos":59,"b":"A","pw":101,"lo":95,"hi":107},{"pos":60,"b":"G","pw":86,"lo":80,"hi":92},
{"pos":61,"b":"T","pw":112,"lo":103,"hi":122},{"pos":62,"b":"T","pw":139,"lo":119,"hi":160},{"pos":63,"b":"G","pw":121,"lo":112,"hi":131},{"pos":64,"b":"C","pw":106,"lo":100,"hi":112},{"pos":65,"b":"T","pw":96,"lo":83,"hi":106},{"pos":66,"b":"T","pw":73,"lo":68,"hi":78},{"pos":67,"b":"G","pw":142,"lo":132,"hi":152},{"pos":68,"b":"A","pw":187,"lo":165,"hi":208},{"pos":69,"b":"T","pw":78,"lo":73,"hi":83},{"pos":70,"b":"C","pw":114,"lo":106,"hi":122},
{"pos":71,"b":"G","pw":137,"lo":122,"hi":150},{"pos":72,"b":"C","pw":96,"lo":88,"hi":104},{"pos":73,"b":"T","pw":83,"lo":77,"hi":89},{"pos":74,"b":"C","pw":104,"lo":98,"hi":110},{"pos":75,"b":"C","pw":98,"lo":92,"hi":104},{"pos":76,"b":"T","pw":74,"lo":69,"hi":79},{"pos":77,"b":"T","pw":74,"lo":69,"hi":79},{"pos":78,"b":"C","pw":98,"lo":90,"hi":106},{"pos":79,"b":"T","pw":84,"lo":78,"hi":90},{"pos":80,"b":"G","pw":88,"lo":82,"hi":94},
{"pos":81,"b":"A","pw":126,"lo":115,"hi":137},{"pos":82,"b":"T","pw":83,"lo":75,"hi":91},{"pos":83,"b":"G","pw":102,"lo":94,"hi":110},{"pos":84,"b":"T","pw":92,"lo":86,"hi":98},{"pos":85,"b":"C","pw":115,"lo":107,"hi":123},{"pos":86,"b":"G","pw":111,"lo":103,"hi":119},{"pos":87,"b":"T","pw":92,"lo":86,"hi":98},{"pos":88,"b":"C","pw":95,"lo":88,"hi":102},{"pos":89,"b":"T","pw":81,"lo":74,"hi":88},{"pos":90,"b":"T","pw":101,"lo":94,"hi":108},
{"pos":91,"b":"G","pw":114,"lo":105,"hi":123},{"pos":92,"b":"A","pw":148,"lo":135,"hi":160},{"pos":93,"b":"T","pw":77,"lo":71,"hi":83},{"pos":94,"b":"G","pw":127,"lo":116,"hi":138},{"pos":95,"b":"T","pw":104,"lo":88,"hi":118},{"pos":96,"b":"A","pw":147,"lo":129,"hi":160},{"pos":97,"b":"C","pw":86,"lo":79,"hi":93},{"pos":98,"b":"G","pw":112,"lo":102,"hi":124},{"pos":99,"b":"T","pw":86,"lo":79,"hi":93},{"pos":100,"b":"C","pw":121,"lo":110,"hi":132},
{"pos":101,"b":"C","pw":104,"lo":96,"hi":112},{"pos":102,"b":"A","pw":94,"lo":88,"hi":100},{"pos":103,"b":"T","pw":83,"lo":76,"hi":90},{"pos":104,"b":"T","pw":124,"lo":110,"hi":137},{"pos":105,"b":"T","pw":109,"lo":90,"hi":124},{"pos":106,"b":"A","pw":247,"lo":142,"hi":353},{"pos":107,"b":"T","pw":89,"lo":67,"hi":111},{"pos":108,"b":"C","pw":97,"lo":90,"hi":104},{"pos":109,"b":"T","pw":58,"lo":54,"hi":62},{"pos":110,"b":"A","pw":108,"lo":92,"hi":121},
{"pos":111,"b":"T","pw":61,"lo":57,"hi":65},{"pos":112,"b":"A","pw":150,"lo":133,"hi":164},{"pos":113,"b":"A","pw":90,"lo":84,"hi":96},{"pos":114,"b":"A","pw":84,"lo":78,"hi":90},{"pos":115,"b":"A","pw":75,"lo":70,"hi":80},{"pos":116,"b":"T","pw":58,"lo":54,"hi":62},{"pos":117,"b":"C","pw":90,"lo":83,"hi":97},{"pos":118,"b":"T","pw":73,"lo":68,"hi":78},{"pos":119,"b":"T","pw":81,"lo":75,"hi":87},{"pos":120,"b":"T","pw":95,"lo":87,"hi":103},
{"pos":121,"b":"A","pw":157,"lo":137,"hi":175},{"pos":122,"b":"A","pw":139,"lo":117,"hi":161},{"pos":123,"b":"A","pw":139,"lo":111,"hi":165},{"pos":124,"b":"C","pw":108,"lo":78,"hi":135},{"pos":125,"b":"A","pw":92,"lo":78,"hi":106},{"pos":126,"b":"A","pw":61,"lo":57,"hi":65},{"pos":127,"b":"A","pw":139,"lo":98,"hi":177},{"pos":128,"b":"C","pw":71,"lo":66,"hi":76},{"pos":129,"b":"C","pw":87,"lo":80,"hi":94},{"pos":130,"b":"T","pw":135,"lo":48,"hi":223},
{"pos":131,"b":"G","pw":98,"lo":83,"hi":114},{"pos":132,"b":"T","pw":119,"lo":101,"hi":140},{"pos":133,"b":"A","pw":334,"lo":282,"hi":385},{"pos":134,"b":"G","pw":102,"lo":86,"hi":118},{"pos":135,"b":"T","pw":145,"lo":120,"hi":171},{"pos":136,"b":"T","pw":90,"lo":83,"hi":97},{"pos":137,"b":"G","pw":128,"lo":114,"hi":142},{"pos":138,"b":"C","pw":121,"lo":104,"hi":135},{"pos":139,"b":"T","pw":88,"lo":82,"hi":94},{"pos":140,"b":"T","pw":83,"lo":77,"hi":89},
{"pos":141,"b":"T","pw":89,"lo":82,"hi":96},{"pos":142,"b":"A","pw":167,"lo":145,"hi":190},{"pos":143,"b":"A","pw":92,"lo":85,"hi":99},{"pos":144,"b":"A","pw":134,"lo":52,"hi":216},{"pos":145,"b":"T","pw":88,"lo":81,"hi":95},{"pos":146,"b":"T","pw":73,"lo":68,"hi":78},{"pos":147,"b":"T","pw":105,"lo":97,"hi":113},{"pos":148,"b":"T","pw":104,"lo":77,"hi":122},{"pos":149,"b":"A","pw":123,"lo":96,"hi":149},{"pos":150,"b":"T","pw":108,"lo":89,"hi":129}
],
"labC":[{"pos":-10.6,"pw":440,"txt":"(c)"}]
},
"bounds":"flush",
"spacing":97,
"resolve":{"scale":{"color":"independent"},"legend":{"color":"independent"}},
"vconcat":[
{"width":1600,"height":285,
"layer":[
{"data":{"name":"noiseA"},"mark":{"type":"line","color":"#111","strokeWidth":1.4},
"encoding":{
"x":{"field":"t","type":"quantitative","scale":{"domain":[45,53],"range":[582.4,1588.4],"nice":false,"zero":false},
"axis":{"title":"Time (s)","values":[45,45.5,46,46.5,47,47.5,48,48.5,49,49.5,50,50.5,51,51.5,52,52.5,53],"labelExpr":"datum.value % 1 === 0 ? format(datum.value, 'd') : ''","labelFontSize":25,"titleFontSize":27,"tickSize":7,"labelPadding":4,"titleY":62,"titleBaseline":"middle","encode":{"ticks":{"update":{"y2":{"signal":"datum.value % 1 === 0 ? 7 : 4"}}}}}},
"y":{"field":"v","type":"quantitative","scale":{"domain":[0,600],"nice":false},
"axis":{"title":["Fluorescence","intensity (a.u.)"],"values":[0,50,100,150,200,250,300,350,400,450,500,550,600],"labelExpr":"datum.value % 100 === 0 ? format(datum.value, 'd') : ''","offset":-582.4,"labelFontSize":25,"titleFontSize":28,"titleLineHeight":36,"tickSize":7,"labelPadding":3,"titleX":-115,"titleY":140,"titleBaseline":"middle","titleAlign":"center","titleAngle":-90,"encode":{"ticks":{"update":{"x2":{"signal":"datum.value % 100 === 0 ? -7 : -4"}}}}}},
"detail":{"field":"s","type":"nominal"}}},
{"data":{"name":"pulsesA"},"mark":{"type":"line","strokeWidth":1.8},
"encoding":{
"x":{"field":"t","type":"quantitative","scale":{"domain":[45,53],"range":[582.4,1588.4],"nice":false,"zero":false}},
"y":{"field":"v","type":"quantitative","scale":{"domain":[0,600],"nice":false}},
"detail":{"field":"p","type":"nominal"},
"color":{"field":"b","type":"nominal","scale":{"domain":["A","T","G","C"],"range":["#3348aa","#1f8c4e","#e41f2d","#f0982f"]},"legend":null}}},
{"data":{"name":"expA"},"transform":[{"filter":"datum.lo != null"}],"mark":{"type":"rule","strokeDash":[3,4],"strokeWidth":2,"color":"#333"},
"encoding":{
"x":{"field":"t","type":"quantitative","scale":{"domain":[45,53],"range":[582.4,1588.4],"nice":false,"zero":false}},
"y":{"field":"lo","type":"quantitative","scale":{"domain":[0,600],"nice":false}},
"y2":{"datum":620}}},
{"data":{"name":"expA"},"mark":{"type":"text","fontSize":24,"color":"#111","baseline":"middle"},
"encoding":{
"x":{"field":"t","type":"quantitative","scale":{"domain":[45,53],"range":[582.4,1588.4],"nice":false,"zero":false}},
"y":{"datum":662,"type":"quantitative","scale":{"domain":[0,600],"nice":false}},
"text":{"field":"txt","type":"nominal"}}},
{"data":{"name":"labA"},"transform":[{"filter":"datum.k == 'exp'"}],"mark":{"type":"text","fontSize":26,"color":"#111","align":"right","baseline":"middle"},
"encoding":{
"x":{"field":"t","type":"quantitative","scale":{"domain":[45,53],"range":[582.4,1588.4],"nice":false,"zero":false}},
"y":{"field":"v","type":"quantitative","scale":{"domain":[0,600],"nice":false}},
"text":{"field":"txt","type":"nominal"}}},
{"data":{"name":"labA"},"transform":[{"filter":"datum.k == 'big'"}],"mark":{"type":"text","fontSize":44,"color":"#111","baseline":"middle"},
"encoding":{
"x":{"field":"t","type":"quantitative","scale":{"domain":[45,53],"range":[582.4,1588.4],"nice":false,"zero":false}},
"y":{"field":"v","type":"quantitative","scale":{"domain":[0,600],"nice":false}},
"text":{"field":"txt","type":"nominal"}}},
{"data":{"name":"peakA"},"mark":{"type":"text","fontSize":23,"baseline":"middle"},
"encoding":{
"x":{"field":"t","type":"quantitative","scale":{"domain":[45,53],"range":[582.4,1588.4],"nice":false,"zero":false}},
"y":{"field":"v","type":"quantitative","scale":{"domain":[0,600],"nice":false}},
"text":{"field":"txt","type":"nominal"},
"color":{"field":"b","type":"nominal","scale":{"domain":["A","T","G","C"],"range":["#3348aa","#1f8c4e","#e41f2d","#f0982f"]},"legend":null}}}
]},
{"width":1600,"height":309,
"layer":[
{"data":{"name":"noiseB"},"mark":{"type":"area","color":"#111","opacity":1,"line":{"color":"#111","strokeWidth":1}},
"encoding":{
"x":{"field":"t","type":"quantitative","scale":{"domain":[0,70],"nice":false},
"axis":{"title":"Time (s)","values":[0,5,10,15,20,25,30,35,40,45,50,55,60,65,70],"labelExpr":"datum.value % 10 === 0 ? format(datum.value, 'd') : ''","labelFontSize":28,"titleFontSize":28,"tickSize":10,"labelPadding":4,"titleX":683,"titleY":58,"titleBaseline":"middle","encode":{"ticks":{"update":{"y2":{"signal":"datum.value % 10 === 0 ? 10 : 5"}}}}}},
"y":{"field":"v","type":"quantitative","scale":{"domain":[0,500],"range":[309,59],"nice":false},
"axis":{"title":["Fluorescence","intensity (a.u.)"],"values":[0,50,100,150,200,250,300,350,400,450,500],"labelExpr":"datum.value % 100 === 0 ? format(datum.value, 'd') : ''","labelFontSize":28,"titleFontSize":28,"titleLineHeight":40,"tickSize":10,"labelPadding":2,"titleX":-131.7,"titleY":167,"titleBaseline":"middle","titleAlign":"center","titleAngle":-90,"encode":{"ticks":{"update":{"x2":{"signal":"datum.value % 100 === 0 ? -10 : -5"}}}}}}}},
{"data":{"name":"pulsesB"},"mark":{"type":"rule","strokeWidth":2.2,"opacity":0.9},
"encoding":{
"x":{"field":"t","type":"quantitative","scale":{"domain":[0,70],"nice":false}},
"y":{"field":"v","type":"quantitative","scale":{"domain":[0,500],"range":[309,59],"nice":false}},
"y2":{"datum":0},
"color":{"field":"b","type":"nominal","scale":{"domain":["A","T","G","C"],"range":["#3a4fae","#1f8a4c","#e3202e","#ef9a34"]},
"legend":{"orient":"none","legendX":181,"legendY":66,"direction":"vertical","title":null,"symbolType":"stroke","symbolSize":440,"symbolStrokeWidth":2.5,"symbolOpacity":0.55,"labelFont":"Liberation Sans","labelFontSize":14,"labelColor":"#222","rowPadding":0,"labelExpr":"datum.label == 'A' ? 'A555-dATP' : datum.label == 'T' ? 'A568-dTTP' : datum.label == 'G' ? 'A647-dGTP' : 'A660-dCTP'"}}}},
{"data":{"name":"conn"},"mark":{"type":"line","color":"#333","strokeWidth":2.5},
"encoding":{
"x":{"field":"t","type":"quantitative","scale":{"domain":[0,70],"nice":false}},
"y":{"field":"v","type":"quantitative","scale":{"domain":[0,500],"range":[309,59],"nice":false}},
"detail":{"field":"g","type":"nominal"},"order":{"field":"o","type":"quantitative"}}},
{"data":{"name":"bases"},"mark":{"type":"tick","orient":"vertical","color":"#222","thickness":2,"size":16},
"encoding":{
"x":{"field":"t","type":"quantitative","scale":{"domain":[0,70],"nice":false}},
"y":{"datum":502,"type":"quantitative","scale":{"domain":[0,500],"range":[309,59],"nice":false}}}},
{"data":{"name":"bases"},"mark":{"type":"text","fontSize":28,"color":"#222","baseline":"middle"},
"encoding":{
"x":{"field":"t","type":"quantitative","scale":{"domain":[0,70],"nice":false}},
"y":{"datum":545,"type":"quantitative","scale":{"domain":[0,500],"range":[309,59],"nice":false}},
"text":{"field":"n","type":"nominal"}}},
{"data":{"name":"basesLab"},"mark":{"type":"text","fontSize":32,"color":"#222","align":"left","baseline":"middle"},
"encoding":{
"x":{"field":"t","type":"quantitative","scale":{"domain":[0,70],"nice":false}},
"y":{"datum":545,"type":"quantitative","scale":{"domain":[0,500],"range":[309,59],"nice":false}},
"text":{"field":"txt","type":"nominal"}}}
]},
{"width":1615,"height":289,
"layer":[
{"data":{"name":"pw"},"mark":{"type":"rule","strokeWidth":1.3,"opacity":0.5},
"encoding":{
"x":{"field":"pos","type":"quantitative","scale":{"domain":[0,151],"nice":false,"zero":false},
"axis":{"title":"Template position","values":[0,5,10,15,20,25,30,35,40,45,50,55,60,65,70,75,80,85,90,95,100,105,110,115,120,125,130,135,140,145,150],"labelExpr":"datum.value % 25 === 0 && datum.value > 0 ? format(datum.value, 'd') : ''","labelFontSize":28,"titleFontSize":28,"tickSize":12,"labelPadding":4,"titleX":799,"titleY":82,"titleBaseline":"middle","encode":{"ticks":{"update":{"y2":{"signal":"datum.value % 25 === 0 ? 12 : 7"}}}}}},
"y":{"field":"lo","type":"quantitative","scale":{"domain":[0,400],"nice":false},
"axis":{"title":"Pulse width (ms)","values":[0,50,100,150,200,250,300,350,400],"labelExpr":"datum.value % 100 === 0 ? format(datum.value, 'd') : ''","labelFontSize":28,"titleFontSize":28,"tickSize":10,"labelPadding":2,"titleX":-100,"titleY":144,"titleBaseline":"middle","titleAlign":"center","titleAngle":-90,"encode":{"ticks":{"update":{"x2":{"signal":"datum.value % 100 === 0 ? -10 : -6"}}}}}},
"y2":{"field":"hi"},
"color":{"field":"b","type":"nominal","scale":{"domain":["A","T","G","C"],"range":["#2a3a9c","#137846","#da1b2b","#f29a38"]},"legend":null}}},
{"data":{"name":"pw"},"mark":{"type":"point","shape":"stroke","size":70,"strokeWidth":1.3,"opacity":0.55},
"encoding":{
"x":{"field":"pos","type":"quantitative","scale":{"domain":[0,151],"nice":false,"zero":false}},
"y":{"field":"lo","type":"quantitative","scale":{"domain":[0,400],"nice":false}},
"color":{"field":"b","type":"nominal","scale":{"domain":["A","T","G","C"],"range":["#2a3a9c","#137846","#da1b2b","#f29a38"]},"legend":null}}},
{"data":{"name":"pw"},"mark":{"type":"point","shape":"stroke","size":70,"strokeWidth":1.3,"opacity":0.55},
"encoding":{
"x":{"field":"pos","type":"quantitative","scale":{"domain":[0,151],"nice":false,"zero":false}},
"y":{"field":"hi","type":"quantitative","scale":{"domain":[0,400],"nice":false}},
"color":{"field":"b","type":"nominal","scale":{"domain":["A","T","G","C"],"range":["#2a3a9c","#137846","#da1b2b","#f29a38"]},"legend":null}}},
{"data":{"name":"pw"},"mark":{"type":"point","shape":"square","filled":true,"size":110,"opacity":0.22},
"encoding":{
"x":{"field":"pos","type":"quantitative","scale":{"domain":[0,151],"nice":false,"zero":false}},
"y":{"field":"pw","type":"quantitative","scale":{"domain":[0,400],"nice":false}},
"color":{"field":"b","type":"nominal","scale":{"domain":["A","T","G","C"],"range":["#2a3a9c","#137846","#da1b2b","#f29a38"]},"legend":null}}},
{"data":{"name":"pw"},"mark":{"type":"point","shape":"square","filled":true,"size":32,"opacity":1},
"encoding":{
"x":{"field":"pos","type":"quantitative","scale":{"domain":[0,151],"nice":false,"zero":false}},
"y":{"field":"pw","type":"quantitative","scale":{"domain":[0,400],"nice":false}},
"color":{"field":"b","type":"nominal","scale":{"domain":["A","T","G","C"],"range":["#2a3a9c","#137846","#da1b2b","#f29a38"]},"legend":null}}},
{"data":{"name":"labC"},"mark":{"type":"text","fontSize":44,"color":"#111","baseline":"middle"},
"encoding":{
"x":{"field":"pos","type":"quantitative","scale":{"domain":[0,151],"nice":false,"zero":false}},
"y":{"field":"pw","type":"quantitative","scale":{"domain":[0,400],"nice":false}},
"text":{"field":"txt","type":"nominal"}}}
]}
]
}
